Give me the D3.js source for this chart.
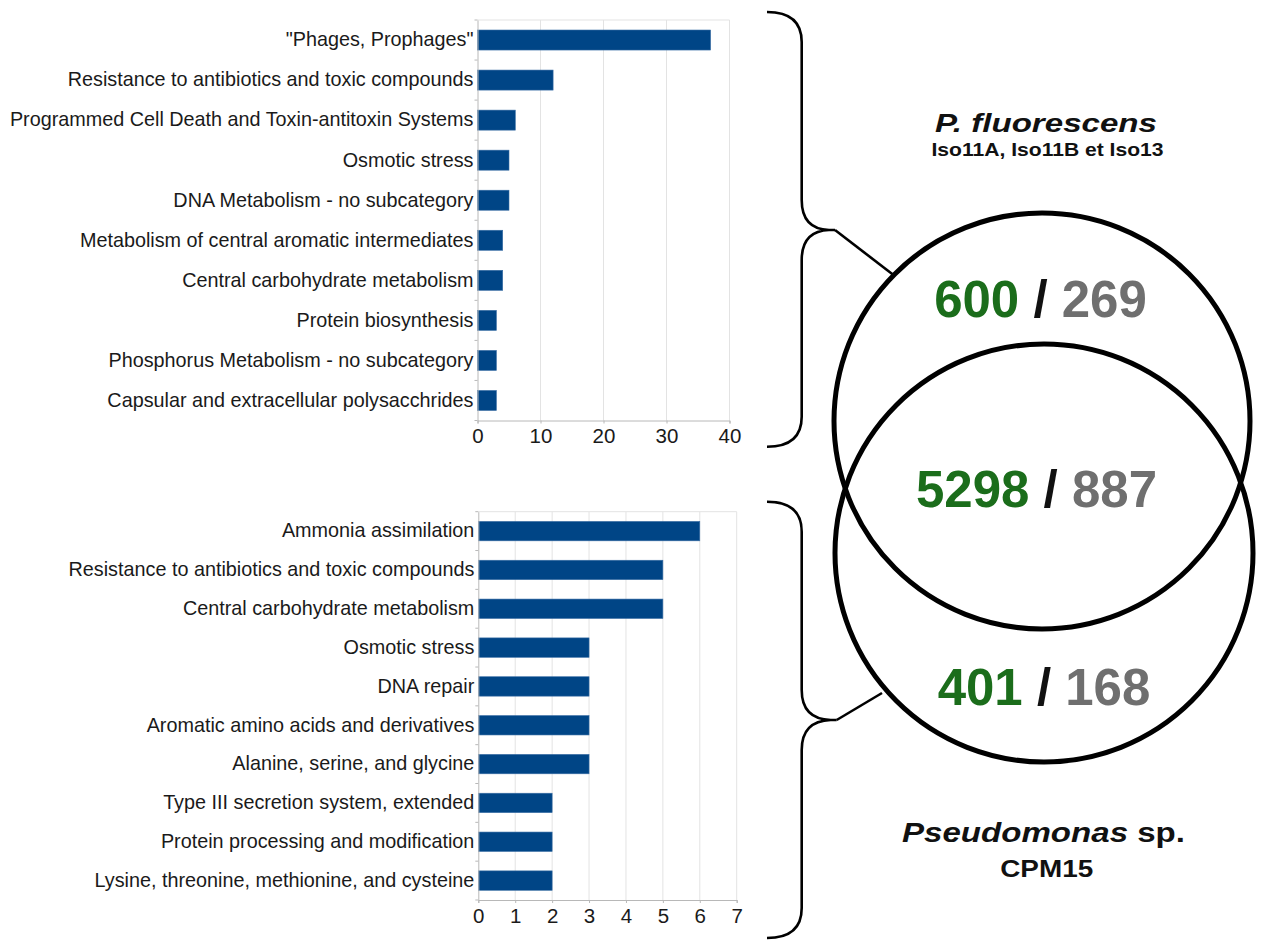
<!DOCTYPE html>
<html>
<head>
<meta charset="utf-8">
<script src="https://cdn.jsdelivr.net/npm/d3@7"></script>
<style>
  html, body { margin: 0; padding: 0; background: #fff; }
  svg { display: block; font-family: "Liberation Sans", Arial, sans-serif; }
</style>
</head>
<body>
<svg id="fig" width="1262" height="940"></svg>
<script>
// Subsystem categories unique to P. fluorescens (Iso11A, Iso11B, Iso13)
const topCategories = [
  "\"Phages, Prophages\"",
  "Resistance to antibiotics and toxic compounds",
  "Programmed Cell Death and Toxin-antitoxin Systems",
  "Osmotic stress",
  "DNA Metabolism - no subcategory",
  "Metabolism of central aromatic intermediates",
  "Central carbohydrate metabolism",
  "Protein biosynthesis",
  "Phosphorus Metabolism - no subcategory",
  "Capsular and extracellular polysacchrides"
];
const topValues = [37, 12, 6, 5, 5, 4, 4, 3, 3, 3];
const topTicks = [0, 10, 20, 30, 40];

// Subsystem categories unique to Pseudomonas sp. CPM15
const bottomCategories = [
  "Ammonia assimilation",
  "Resistance to antibiotics and toxic compounds",
  "Central carbohydrate metabolism",
  "Osmotic stress",
  "DNA repair",
  "Aromatic amino acids and derivatives",
  "Alanine, serine, and glycine",
  "Type III secretion system, extended",
  "Protein processing and modification",
  "Lysine, threonine, methionine, and cysteine"
];
const bottomValues = [6, 5, 5, 3, 3, 3, 3, 2, 2, 2];
const bottomTicks = [0, 1, 2, 3, 4, 5, 6, 7];

// Venn counts: [green count, grey count] for each region
const vennRegions = ["fluorescens only", "shared", "CPM15 only"];
const vennGreen = [600, 5298, 401];
const vennGrey = [269, 887, 168];

const svg = d3.select("#fig");
const BAR = "#004586";
const GRID = "#e3e3e3";
const AXIS = "#b8b8b8";
const FONT = 19.8;

function barChart(categories, values, ticks, xr, yr) {
  const x = d3.scaleLinear().domain([ticks[0], ticks[ticks.length - 1]]).range(xr);
  const y = d3.scaleBand().domain(categories).range(yr).paddingInner(0.5).paddingOuter(0.25);
  const g = svg.append("g");

  // vertical grid lines and top frame
  g.selectAll("line.grid").data(ticks.slice(1)).join("line")
    .attr("x1", d => x(d)).attr("x2", d => x(d))
    .attr("y1", yr[0]).attr("y2", yr[1])
    .attr("stroke", GRID).attr("stroke-width", 1);
  g.append("line")
    .attr("x1", xr[0]).attr("x2", xr[1]).attr("y1", yr[0]).attr("y2", yr[0])
    .attr("stroke", GRID).attr("stroke-width", 1);

  // bars
  g.selectAll("rect.bar").data(values).join("rect")
    .attr("x", x(0))
    .attr("y", (d, i) => y(categories[i]))
    .attr("width", d => x(d) - x(0))
    .attr("height", y.bandwidth())
    .attr("fill", BAR)
    .attr("stroke", "#3a6ea5").attr("stroke-width", 0.6);

  // x axis
  const xa = g.append("g").attr("transform", `translate(0,${yr[1]})`)
    .call(d3.axisBottom(x).tickValues(ticks).tickSize(3).tickPadding(5).tickFormat(d3.format("d")));
  xa.select(".domain").attr("stroke", AXIS);
  xa.selectAll(".tick line").attr("stroke", AXIS);
  xa.selectAll("text").attr("font-size", 20.5).attr("fill", "#1a1a1a")
    .attr("font-family", "'Liberation Sans', Arial, sans-serif");

  // y axis with category labels
  const ya = g.append("g").attr("transform", `translate(${xr[0]},0)`)
    .call(d3.axisLeft(y).tickSize(0).tickPadding(4));
  ya.select(".domain").attr("stroke", AXIS);
  ya.selectAll("text").attr("font-size", FONT).attr("fill", "#1a1a1a")
    .attr("font-family", "'Liberation Sans', Arial, sans-serif");
  // small separators between categories on the left axis
  const step = y.step();
  g.selectAll("line.sep").data(d3.range(categories.length + 1)).join("line")
    .attr("x1", xr[0] - 3).attr("x2", xr[0])
    .attr("y1", i => yr[0] + i * step).attr("y2", i => yr[0] + i * step)
    .attr("stroke", AXIS).attr("stroke-width", 1);
}

barChart(topCategories, topValues, topTicks, [477.5, 729.5], [20, 420.5]);
barChart(bottomCategories, bottomValues, bottomTicks, [478.3, 736.7], [511.7, 900]);

// Braces linking each chart to its Venn region
const braces = svg.append("g").attr("fill", "none").attr("stroke", "#000")
  .attr("stroke-width", 2.6).attr("stroke-linejoin", "round");
function brace(top, tip, bottom, target) {
  const xv = 801.7, xs = 767, r = 30;
  const [tx, ty] = tip;
  const p = d3.path();
  p.moveTo(xs, top);
  p.quadraticCurveTo(xv, top, xv, top + r);
  p.lineTo(xv, ty - r);
  p.quadraticCurveTo(xv, ty - 1, tx - 6, ty);
  p.lineTo(tx, ty);
  p.moveTo(tx, ty);
  p.lineTo(tx - 6, ty);
  p.quadraticCurveTo(xv, ty + 1, xv, ty + r);
  p.lineTo(xv, bottom - r);
  p.quadraticCurveTo(xv, bottom, xs, bottom);
  braces.append("path").attr("d", p.toString());
  braces.append("line").attr("x1", tx).attr("y1", ty)
    .attr("x2", target[0]).attr("y2", target[1]);
}
brace(12, [835, 230], 446.7, [893.5, 275]);
brace(501.7, [836.7, 720], 938, [882, 693]);

// Venn circles
const venn = svg.append("g");
const circles = [{cx: 1042, cy: 421, r: 208}, {cx: 1044, cy: 553, r: 209}];
venn.selectAll("circle").data(circles).join("circle")
  .attr("cx", d => d.cx).attr("cy", d => d.cy).attr("r", d => d.r)
  .attr("fill", "none").attr("stroke", "#000").attr("stroke-width", 5);

// Counts in each region
const countPos = [[1040.5, 316.7], [1036.5, 506.7], [1044, 705]];
vennRegions.forEach((name, i) => {
  const t = venn.append("text")
    .attr("x", countPos[i][0]).attr("y", countPos[i][1])
    .attr("text-anchor", "middle").attr("font-size", 51).attr("font-weight", "bold");
  t.append("tspan").attr("fill", "#1b6d1b").text(vennGreen[i]);
  t.append("tspan").attr("fill", "#111").text(" / ");
  t.append("tspan").attr("fill", "#6f6f6f").text(vennGrey[i]);
});

// Organism labels
function label(x, y, size, len, parts) {
  const t = venn.append("text").attr("x", x).attr("y", y)
    .attr("text-anchor", "middle").attr("font-size", size).attr("font-weight", "bold")
    .attr("fill", "#111")
    .attr("textLength", len).attr("lengthAdjust", "spacingAndGlyphs");
  parts.forEach(([txt, italic]) => {
    t.append("tspan").attr("font-style", italic ? "italic" : "normal").text(txt);
  });
}
label(1046, 132, 25.5, 222, [["P. fluorescens", true]]);
label(1047.5, 156, 18.5, 232, [["Iso11A, Iso11B et Iso13", false]]);
label(1043.5, 842, 28.5, 283, [["Pseudomonas", true], [" sp.", false]]);
label(1046.7, 876.7, 23.5, 93, [["CPM15", false]]);
</script>
</body>
</html>
